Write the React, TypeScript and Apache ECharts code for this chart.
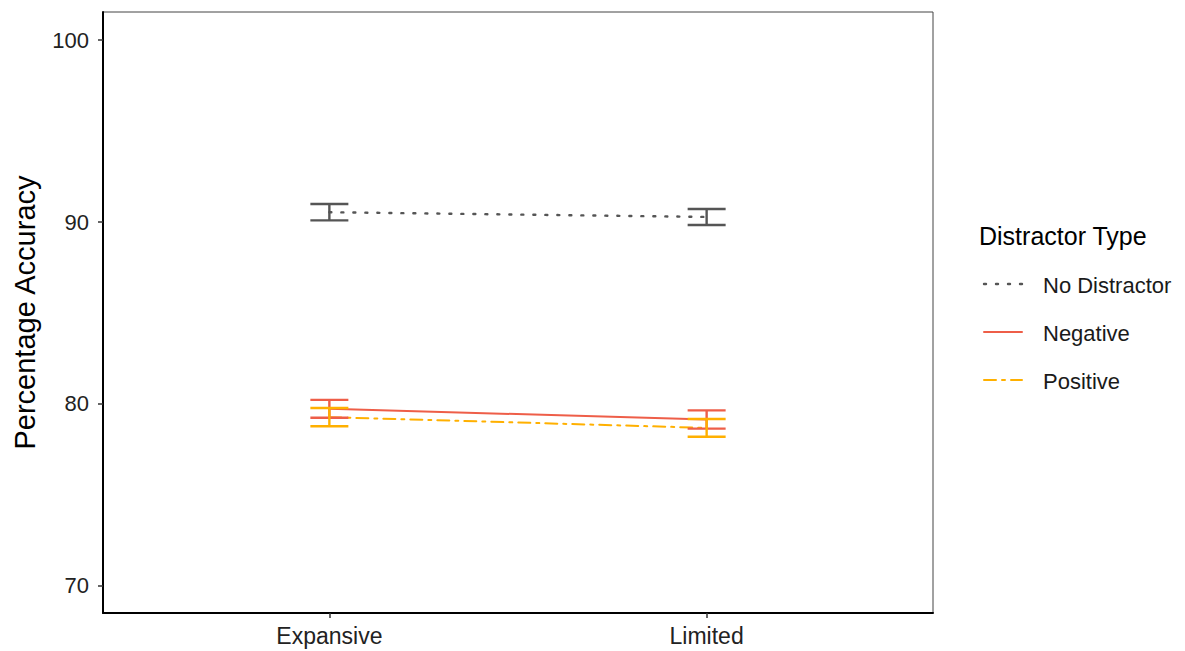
import React, { useEffect, useRef } from "react";
import * as echarts from "echarts";

// Categories on the x axis (placed at positions 1 and 2)
const conditions = ["Expansive", "Limited"];
const conditionPos = [1, 2];

// Distractor groups
const groupNames = ["No Distractor", "Negative", "Positive"];
const groupColors = ["#555555", "#EE5E48", "#FFB000"];

// Mean percentage accuracy per condition
const noDistractorMean = [90.54, 90.28];
const negativeMean = [79.73, 79.14];
const positiveMean = [79.27, 78.68];

// Standard errors per condition
const noDistractorSE = [0.45, 0.44];
const negativeSE = [0.49, 0.5];
const positiveSE = [0.5, 0.49];

const yTicks = [70, 80, 90, 100];

const FONT = "Liberation Sans, Arial, sans-serif";

export default function App() {
  const ref = useRef<HTMLDivElement>(null);

  useEffect(() => {
    document.body.style.margin = "0";
    if (!ref.current) return;
    const chart = echarts.init(ref.current, undefined, { renderer: "svg" });

    const means = [noDistractorMean, negativeMean, positiveMean];
    const ses = [noDistractorSE, negativeSE, positiveSE];
    const dashes: any[] = [[2, 10], null, [12, 6, 3, 6]];
    const widths = [2.4, 2, 2];

    const series: any[] = [];
    groupNames.forEach((name, g) => {
      series.push({
        name,
        type: "line",
        data: conditionPos.map((x, i) => [x, means[g][i]]),
        symbol: "none",
        lineStyle: { color: groupColors[g], width: widths[g], type: dashes[g] ?? "solid", cap: "round" },
        z: 2,
      });
    });
    groupNames.forEach((name, g) => {
      series.push({
        name: name + " SE",
        type: "custom",
        data: conditionPos.map((x, i) => [x, means[g][i] - ses[g][i], means[g][i] + ses[g][i]]),
        renderItem: (params: any, api: any) => {
          const x = api.value(0);
          const lo = api.coord([x, api.value(1)]);
          const hi = api.coord([x, api.value(2)]);
          const half = 19;
          const style = { stroke: groupColors[g], lineWidth: 2.4 };
          return {
            type: "group",
            children: [
              { type: "line", shape: { x1: lo[0], y1: lo[1], x2: hi[0], y2: hi[1] }, style },
              { type: "line", shape: { x1: lo[0] - half, y1: lo[1], x2: lo[0] + half, y2: lo[1] }, style },
              { type: "line", shape: { x1: hi[0] - half, y1: hi[1], x2: hi[0] + half, y2: hi[1] }, style },
            ],
          };
        },
        z: 3,
      });
    });

    // Legend drawn as graphic elements
    const graphic: any[] = [
      {
        type: "text",
        x: 979,
        y: 236,
        style: {
          text: "Distractor Type",
          font: `25px ${FONT}`,
          fill: "#000",
          verticalAlign: "middle",
        },
      },
    ];
    groupNames.forEach((name, g) => {
      const y = 284 + g * 48;
      graphic.push({
        type: "line",
        shape: { x1: 984, y1: y, x2: 1022, y2: y },
        style: {
          stroke: groupColors[g],
          lineWidth: widths[g],
          lineDash: dashes[g],
          lineCap: "round",
        },
      });
      graphic.push({
        type: "text",
        x: 1043,
        y: y + 1,
        style: { text: name, font: `22px ${FONT}`, fill: "#1a1a1a", verticalAlign: "middle" },
      });
    });

    chart.setOption({
      animation: false,
      backgroundColor: "#fff",
      grid: {
        left: 103,
        right: 252,
        top: 12,
        bottom: 38,
        show: true,
        borderColor: "#444",
        borderWidth: 1,
        containLabel: false,
      },
      xAxis: {
        type: "value",
        min: 0.4,
        max: 2.6,
        splitLine: { show: false },
        axisLine: { show: true, onZero: false, lineStyle: { color: "#000", width: 2 } },
        axisTick: { show: true, length: 5, customValues: conditionPos, lineStyle: { color: "#333", width: 1.5 } },
        axisLabel: {
          customValues: conditionPos,
          formatter: (v: number) => conditions[conditionPos.indexOf(Math.round(v))] ?? "",
          color: "#222",
          fontSize: 23,
          fontFamily: FONT,
          margin: 11,
        },
      },
      yAxis: {
        type: "value",
        min: 68.5,
        max: 101.55,
        name: "Percentage Accuracy",
        nameLocation: "middle",
        nameGap: 64,
        nameTextStyle: { fontSize: 29, fontFamily: FONT, color: "#000" },
        splitLine: { show: false },
        axisLine: { show: true, onZero: false, lineStyle: { color: "#000", width: 2 } },
        axisTick: { show: true, length: 5, customValues: yTicks, lineStyle: { color: "#333", width: 1.5 } },
        axisLabel: {
          customValues: yTicks,
          color: "#222",
          fontSize: 22,
          fontFamily: FONT,
          margin: 14,
        },
      },
      series,
      graphic,
    });

    return () => chart.dispose();
  }, []);

  return <div ref={ref} style={{ width: 1185, height: 651 }} />;
}
